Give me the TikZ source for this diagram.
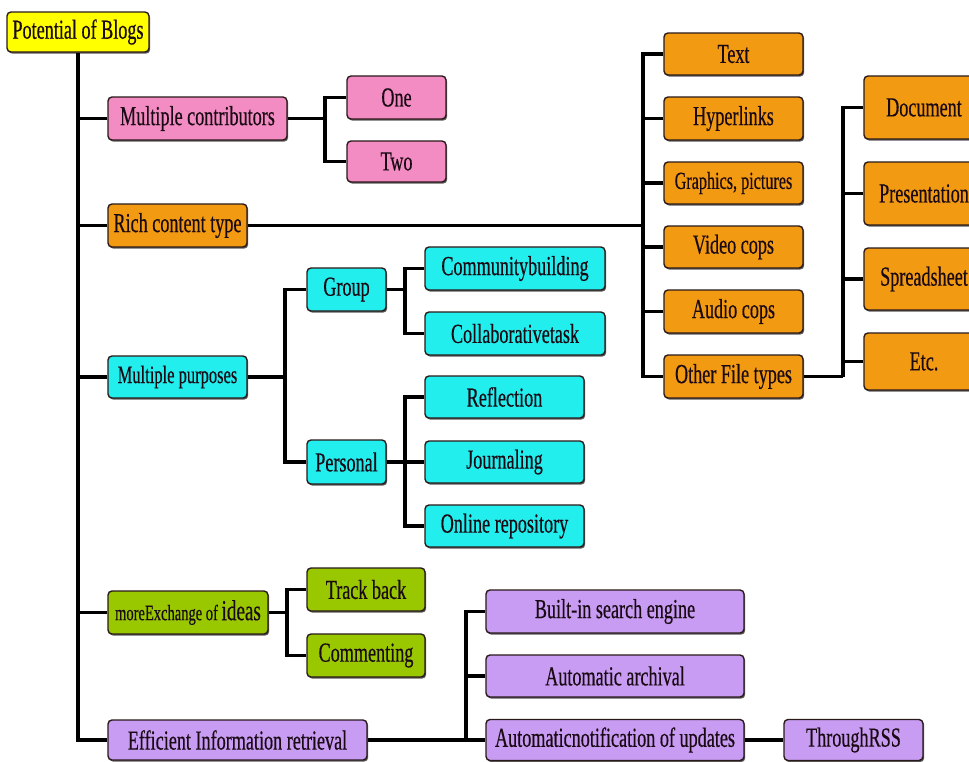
\documentclass[tikz,border=0pt]{standalone}
\usepackage{fontspec}
\setmainfont[FakeStretch=0.66,FakeBold=0.4]{Liberation Serif}
\usetikzlibrary{shadows}
\definecolor{cyel}{HTML}{FFFF00}
\definecolor{cpink}{HTML}{F48CC4}
\definecolor{corange}{HTML}{F29A12}
\definecolor{ccyan}{HTML}{22EEEE}
\definecolor{cgreen}{HTML}{99C800}
\definecolor{cpurple}{HTML}{C79CF2}
\definecolor{cborder}{HTML}{2A1A1A}
\definecolor{ctext}{HTML}{1A0A14}
\begin{document}
\begin{tikzpicture}[x=1pt,y=-1pt,
  box/.style={draw=cborder, line width=1.4pt, rounded corners=4pt, inner sep=0pt, align=center,
    text=ctext, font=\fontsize{27.5}{29}\selectfont,
    drop shadow={shadow xshift=1.2pt,shadow yshift=-1.6pt,fill=black!80,opacity=0.8}},
  sz/.style 2 args={minimum width=#1pt,minimum height=#2pt},
  conn/.style={line width=3.6pt, black},
  yel/.style={box,fill=cyel},
  pnk/.style={box,fill=cpink},
  org/.style={box,fill=corange},
  cyn/.style={box,fill=ccyan},
  grn/.style={box,fill=cgreen},
  prp/.style={box,fill=cpurple}]
\clip (0,0) rectangle (969,761);
\fill[white] (0,0) rectangle (969,761);
% nodes
\node[yel,sz={142}{40}] (root) at (78,32) {Potential of Blogs};
\node[pnk,sz={179}{43}] (mc) at (197.5,118.5) {Multiple contributors};
\node[pnk,sz={99}{43}] (one) at (396.5,97.5) {One};
\node[pnk,sz={99}{41}] (two) at (396.5,161.5) {Two};
\node[org,sz={139}{43}] (rct) at (177.5,225.5) {Rich content type};
\node[org,sz={139}{42}] (text) at (733.5,54) {Text};
\node[org,sz={139}{43}] (hyper) at (733.5,118.5) {Hyperlinks};
\node[org,sz={139}{42},font=\fontsize{24.5}{26}\selectfont] (graph) at (733.5,183) {Graphics, pictures};
\node[org,sz={139}{42}] (video) at (733.5,247) {Video cops};
\node[org,sz={139}{43}] (audio) at (733.5,311.5) {Audio cops};
\node[org,sz={139}{43}] (other) at (733.5,376.5) {Other File types};
\node[org,sz={120}{63}] (doc) at (924,107.5) {Document};
\node[org,sz={120}{63}] (pres) at (924,193.5) {Presentation};
\node[org,sz={120}{62}] (spread) at (924,279) {Spreadsheet};
\node[org,sz={120}{57}] (etc) at (924,361.5) {Etc.};
\node[cyn,sz={139}{42},font=\fontsize{25}{27}\selectfont] (mp) at (177.5,377) {Multiple purposes};
\node[cyn,sz={79}{43}] (group) at (346.5,289.5) {Group};
\node[cyn,sz={79}{44}] (personal) at (346.5,462) {Personal};
\node[cyn,sz={180}{43}] (comm) at (515,268.5) {Communitybuilding};
\node[cyn,sz={180}{43}] (collab) at (515,333.5) {Collaborativetask};
\node[cyn,sz={159}{42}] (refl) at (504.5,397) {Reflection};
\node[cyn,sz={159}{42}] (journ) at (504.5,462) {Journaling};
\node[cyn,sz={159}{42}] (online) at (504.5,526) {Online repository};
\node[grn,sz={160}{43}] (mx) at (188,612.5) {{\fontsize{22}{24}\selectfont moreExchange of }{\fontsize{29}{31}\selectfont ideas}};
\node[grn,sz={118}{43}] (track) at (366,589.5) {Track back};
\node[grn,sz={118}{43}] (commenting) at (366,655.5) {Commenting};
\node[prp,sz={259}{40}] (eir) at (237.5,740) {Efficient Information retrieval};
\node[prp,sz={258}{43}] (bis) at (615,611.5) {Built-in search engine};
\node[prp,sz={258}{42}] (aa) at (615,676) {Automatic archival};
\node[prp,sz={258}{41}] (an) at (615,740) {Automaticnotification of updates};
\node[prp,sz={139}{41}] (rss) at (853.5,740) {ThroughRSS};
% bus coordinates
\coordinate (bmc) at (325,118.5);
\coordinate (brct) at (643,225.5);
\coordinate (both) at (843,376.5);
\coordinate (bmp) at (285,377);
\coordinate (bg) at (405,289.5);
\coordinate (bp) at (405,462);
\coordinate (bmx) at (287,612.5);
\coordinate (be) at (466,740);
% connectors
\draw[conn] (root.south) |- (eir.west);
\foreach \n in {mc,rct,mp,mx} \draw[conn] (\n.west) -- (\n.west -| root.south);
\draw[conn] (mc.east) -- (bmc);
\draw[conn] (one.west) -| (bmc) |- (two.west);
\draw[conn] (rct.east) -- (brct);
\draw[conn] (text.west) -| (brct) |- (other.west);
\foreach \n in {hyper,graph,video,audio} \draw[conn] (\n.west) -- (\n.west -| brct);
\draw[conn] (other.east) -- (both);
\draw[conn] (doc.west) -| (both);
\foreach \n in {pres,spread,etc} \draw[conn] (\n.west) -- (\n.west -| both);
\draw[conn] (mp.east) -- (bmp);
\draw[conn] (group.west) -| (bmp) |- (personal.west);
\draw[conn] (group.east) -- (bg);
\draw[conn] (comm.west) -| (bg) |- (collab.west);
\draw[conn] (personal.east) -- (journ.west);
\draw[conn] (refl.west) -| (bp) |- (online.west);
\draw[conn] (mx.east) -- (bmx);
\draw[conn] (track.west) -| (bmx) |- (commenting.west);
\draw[conn] (eir.east) -- (an.west);
\draw[conn] (bis.west) -| (be);
\draw[conn] (aa.west) -- (aa.west -| be);
\draw[conn] (an.east) -- (rss.west);
\end{tikzpicture}
\end{document}
